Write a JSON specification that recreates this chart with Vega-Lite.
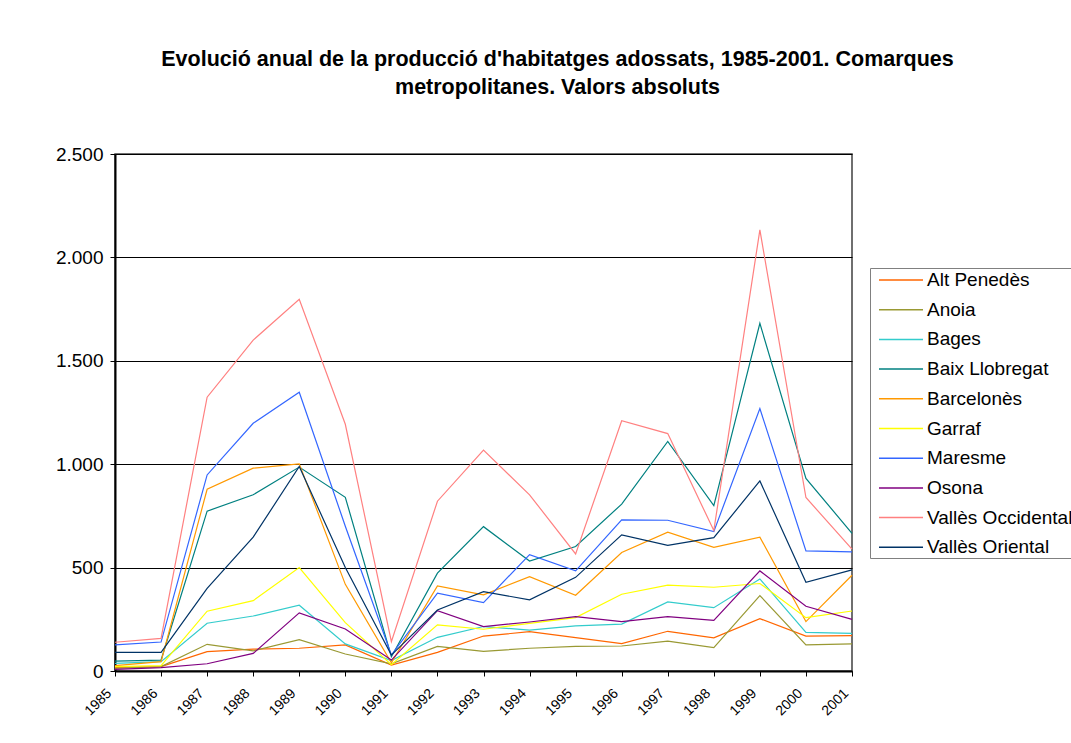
{
  "$schema": "https://vega.github.io/schema/vega-lite/v6.json",
  "width": 737,
  "height": 517,
  "autosize": "none",
  "padding": {"left": 115, "top": 154, "right": 219, "bottom": 72},
  "background": "white",
  "title": {
    "text": ["Evolució anual de la producció d'habitatges adossats, 1985-2001. Comarques", "metropolitanes. Valors absoluts"],
    "font": "Liberation Sans",
    "fontSize": 21.5,
    "fontWeight": "bold",
    "color": "black",
    "anchor": "middle",
    "dx": 74,
    "offset": 47,
    "lineHeight": 28
  },
  "data": {
    "values": [
      {"comarca": "Alt Penedès", "year": "1985", "value": 18},
      {"comarca": "Alt Penedès", "year": "1986", "value": 21},
      {"comarca": "Alt Penedès", "year": "1987", "value": 94},
      {"comarca": "Alt Penedès", "year": "1988", "value": 106},
      {"comarca": "Alt Penedès", "year": "1989", "value": 110},
      {"comarca": "Alt Penedès", "year": "1990", "value": 126},
      {"comarca": "Alt Penedès", "year": "1991", "value": 29},
      {"comarca": "Alt Penedès", "year": "1992", "value": 90},
      {"comarca": "Alt Penedès", "year": "1993", "value": 169},
      {"comarca": "Alt Penedès", "year": "1994", "value": 190},
      {"comarca": "Alt Penedès", "year": "1995", "value": 161},
      {"comarca": "Alt Penedès", "year": "1996", "value": 132},
      {"comarca": "Alt Penedès", "year": "1997", "value": 192},
      {"comarca": "Alt Penedès", "year": "1998", "value": 160},
      {"comarca": "Alt Penedès", "year": "1999", "value": 253},
      {"comarca": "Alt Penedès", "year": "2000", "value": 169},
      {"comarca": "Alt Penedès", "year": "2001", "value": 171},
      {"comarca": "Anoia", "year": "1985", "value": 13},
      {"comarca": "Anoia", "year": "1986", "value": 21},
      {"comarca": "Anoia", "year": "1987", "value": 129},
      {"comarca": "Anoia", "year": "1988", "value": 97},
      {"comarca": "Anoia", "year": "1989", "value": 152},
      {"comarca": "Anoia", "year": "1990", "value": 82},
      {"comarca": "Anoia", "year": "1991", "value": 35},
      {"comarca": "Anoia", "year": "1992", "value": 119},
      {"comarca": "Anoia", "year": "1993", "value": 95},
      {"comarca": "Anoia", "year": "1994", "value": 110},
      {"comarca": "Anoia", "year": "1995", "value": 119},
      {"comarca": "Anoia", "year": "1996", "value": 121},
      {"comarca": "Anoia", "year": "1997", "value": 144},
      {"comarca": "Anoia", "year": "1998", "value": 113},
      {"comarca": "Anoia", "year": "1999", "value": 365},
      {"comarca": "Anoia", "year": "2000", "value": 126},
      {"comarca": "Anoia", "year": "2001", "value": 131},
      {"comarca": "Bages", "year": "1985", "value": 37},
      {"comarca": "Bages", "year": "1986", "value": 45},
      {"comarca": "Bages", "year": "1987", "value": 231},
      {"comarca": "Bages", "year": "1988", "value": 266},
      {"comarca": "Bages", "year": "1989", "value": 318},
      {"comarca": "Bages", "year": "1990", "value": 131},
      {"comarca": "Bages", "year": "1991", "value": 50},
      {"comarca": "Bages", "year": "1992", "value": 163},
      {"comarca": "Bages", "year": "1993", "value": 215},
      {"comarca": "Bages", "year": "1994", "value": 198},
      {"comarca": "Bages", "year": "1995", "value": 218},
      {"comarca": "Bages", "year": "1996", "value": 227},
      {"comarca": "Bages", "year": "1997", "value": 334},
      {"comarca": "Bages", "year": "1998", "value": 306},
      {"comarca": "Bages", "year": "1999", "value": 445},
      {"comarca": "Bages", "year": "2000", "value": 187},
      {"comarca": "Bages", "year": "2001", "value": 182},
      {"comarca": "Baix Llobregat", "year": "1985", "value": 48},
      {"comarca": "Baix Llobregat", "year": "1986", "value": 53},
      {"comarca": "Baix Llobregat", "year": "1987", "value": 773},
      {"comarca": "Baix Llobregat", "year": "1988", "value": 852},
      {"comarca": "Baix Llobregat", "year": "1989", "value": 986},
      {"comarca": "Baix Llobregat", "year": "1990", "value": 840},
      {"comarca": "Baix Llobregat", "year": "1991", "value": 69},
      {"comarca": "Baix Llobregat", "year": "1992", "value": 473},
      {"comarca": "Baix Llobregat", "year": "1993", "value": 698},
      {"comarca": "Baix Llobregat", "year": "1994", "value": 532},
      {"comarca": "Baix Llobregat", "year": "1995", "value": 602},
      {"comarca": "Baix Llobregat", "year": "1996", "value": 807},
      {"comarca": "Baix Llobregat", "year": "1997", "value": 1110},
      {"comarca": "Baix Llobregat", "year": "1998", "value": 800},
      {"comarca": "Baix Llobregat", "year": "1999", "value": 1681},
      {"comarca": "Baix Llobregat", "year": "2000", "value": 931},
      {"comarca": "Baix Llobregat", "year": "2001", "value": 666},
      {"comarca": "Barcelonès", "year": "1985", "value": 26},
      {"comarca": "Barcelonès", "year": "1986", "value": 45},
      {"comarca": "Barcelonès", "year": "1987", "value": 879},
      {"comarca": "Barcelonès", "year": "1988", "value": 981},
      {"comarca": "Barcelonès", "year": "1989", "value": 1002},
      {"comarca": "Barcelonès", "year": "1990", "value": 419},
      {"comarca": "Barcelonès", "year": "1991", "value": 40},
      {"comarca": "Barcelonès", "year": "1992", "value": 411},
      {"comarca": "Barcelonès", "year": "1993", "value": 368},
      {"comarca": "Barcelonès", "year": "1994", "value": 456},
      {"comarca": "Barcelonès", "year": "1995", "value": 366},
      {"comarca": "Barcelonès", "year": "1996", "value": 573},
      {"comarca": "Barcelonès", "year": "1997", "value": 671},
      {"comarca": "Barcelonès", "year": "1998", "value": 598},
      {"comarca": "Barcelonès", "year": "1999", "value": 647},
      {"comarca": "Barcelonès", "year": "2000", "value": 239},
      {"comarca": "Barcelonès", "year": "2001", "value": 463},
      {"comarca": "Garraf", "year": "1985", "value": 21},
      {"comarca": "Garraf", "year": "1986", "value": 26},
      {"comarca": "Garraf", "year": "1987", "value": 289},
      {"comarca": "Garraf", "year": "1988", "value": 340},
      {"comarca": "Garraf", "year": "1989", "value": 500},
      {"comarca": "Garraf", "year": "1990", "value": 234},
      {"comarca": "Garraf", "year": "1991", "value": 30},
      {"comarca": "Garraf", "year": "1992", "value": 223},
      {"comarca": "Garraf", "year": "1993", "value": 202},
      {"comarca": "Garraf", "year": "1994", "value": 230},
      {"comarca": "Garraf", "year": "1995", "value": 258},
      {"comarca": "Garraf", "year": "1996", "value": 371},
      {"comarca": "Garraf", "year": "1997", "value": 415},
      {"comarca": "Garraf", "year": "1998", "value": 405},
      {"comarca": "Garraf", "year": "1999", "value": 423},
      {"comarca": "Garraf", "year": "2000", "value": 258},
      {"comarca": "Garraf", "year": "2001", "value": 290},
      {"comarca": "Maresme", "year": "1985", "value": 126},
      {"comarca": "Maresme", "year": "1986", "value": 140},
      {"comarca": "Maresme", "year": "1987", "value": 948},
      {"comarca": "Maresme", "year": "1988", "value": 1198},
      {"comarca": "Maresme", "year": "1989", "value": 1348},
      {"comarca": "Maresme", "year": "1990", "value": 700},
      {"comarca": "Maresme", "year": "1991", "value": 77},
      {"comarca": "Maresme", "year": "1992", "value": 376},
      {"comarca": "Maresme", "year": "1993", "value": 331},
      {"comarca": "Maresme", "year": "1994", "value": 563},
      {"comarca": "Maresme", "year": "1995", "value": 484},
      {"comarca": "Maresme", "year": "1996", "value": 731},
      {"comarca": "Maresme", "year": "1997", "value": 729},
      {"comarca": "Maresme", "year": "1998", "value": 674},
      {"comarca": "Maresme", "year": "1999", "value": 1269},
      {"comarca": "Maresme", "year": "2000", "value": 581},
      {"comarca": "Maresme", "year": "2001", "value": 576},
      {"comarca": "Osona", "year": "1985", "value": 8},
      {"comarca": "Osona", "year": "1986", "value": 16},
      {"comarca": "Osona", "year": "1987", "value": 35},
      {"comarca": "Osona", "year": "1988", "value": 85},
      {"comarca": "Osona", "year": "1989", "value": 281},
      {"comarca": "Osona", "year": "1990", "value": 203},
      {"comarca": "Osona", "year": "1991", "value": 53},
      {"comarca": "Osona", "year": "1992", "value": 292},
      {"comarca": "Osona", "year": "1993", "value": 215},
      {"comarca": "Osona", "year": "1994", "value": 237},
      {"comarca": "Osona", "year": "1995", "value": 263},
      {"comarca": "Osona", "year": "1996", "value": 239},
      {"comarca": "Osona", "year": "1997", "value": 263},
      {"comarca": "Osona", "year": "1998", "value": 245},
      {"comarca": "Osona", "year": "1999", "value": 484},
      {"comarca": "Osona", "year": "2000", "value": 313},
      {"comarca": "Osona", "year": "2001", "value": 250},
      {"comarca": "Vallès Occidental", "year": "1985", "value": 139},
      {"comarca": "Vallès Occidental", "year": "1986", "value": 158},
      {"comarca": "Vallès Occidental", "year": "1987", "value": 1324},
      {"comarca": "Vallès Occidental", "year": "1988", "value": 1600},
      {"comarca": "Vallès Occidental", "year": "1989", "value": 1797},
      {"comarca": "Vallès Occidental", "year": "1990", "value": 1193},
      {"comarca": "Vallès Occidental", "year": "1991", "value": 142},
      {"comarca": "Vallès Occidental", "year": "1992", "value": 821},
      {"comarca": "Vallès Occidental", "year": "1993", "value": 1068},
      {"comarca": "Vallès Occidental", "year": "1994", "value": 852},
      {"comarca": "Vallès Occidental", "year": "1995", "value": 566},
      {"comarca": "Vallès Occidental", "year": "1996", "value": 1210},
      {"comarca": "Vallès Occidental", "year": "1997", "value": 1148},
      {"comarca": "Vallès Occidental", "year": "1998", "value": 679},
      {"comarca": "Vallès Occidental", "year": "1999", "value": 2133},
      {"comarca": "Vallès Occidental", "year": "2000", "value": 839},
      {"comarca": "Vallès Occidental", "year": "2001", "value": 589},
      {"comarca": "Vallès Oriental", "year": "1985", "value": 90},
      {"comarca": "Vallès Oriental", "year": "1986", "value": 90},
      {"comarca": "Vallès Oriental", "year": "1987", "value": 400},
      {"comarca": "Vallès Oriental", "year": "1988", "value": 647},
      {"comarca": "Vallès Oriental", "year": "1989", "value": 989},
      {"comarca": "Vallès Oriental", "year": "1990", "value": 500},
      {"comarca": "Vallès Oriental", "year": "1991", "value": 77},
      {"comarca": "Vallès Oriental", "year": "1992", "value": 295},
      {"comarca": "Vallès Oriental", "year": "1993", "value": 384},
      {"comarca": "Vallès Oriental", "year": "1994", "value": 344},
      {"comarca": "Vallès Oriental", "year": "1995", "value": 453},
      {"comarca": "Vallès Oriental", "year": "1996", "value": 658},
      {"comarca": "Vallès Oriental", "year": "1997", "value": 608},
      {"comarca": "Vallès Oriental", "year": "1998", "value": 645},
      {"comarca": "Vallès Oriental", "year": "1999", "value": 919},
      {"comarca": "Vallès Oriental", "year": "2000", "value": 429},
      {"comarca": "Vallès Oriental", "year": "2001", "value": 489}
    ]
  },
  "mark": {"type": "line", "strokeWidth": 1.2},
  "encoding": {
    "x": {
      "field": "year",
      "type": "ordinal",
      "scale": {"type": "point", "padding": 0},
      "axis": {
        "title": null,
        "labelAngle": -45,
        "labelAlign": "right",
        "labelBaseline": "middle",
        "labelFont": "Liberation Sans",
        "labelFontSize": 14,
        "labelColor": "black",
        "labelPadding": 15,
        "labelOffset": -6,
        "domainColor": "black",
        "domainWidth": 2,
        "tickColor": "black",
        "tickSize": 5,
        "grid": false
      }
    },
    "y": {
      "field": "value",
      "type": "quantitative",
      "scale": {"domain": [0, 2500], "nice": false},
      "axis": {
        "title": null,
        "values": [0, 500, 1000, 1500, 2000, 2500],
        "labelExpr": "replace(format(datum.value, ','), ',', '.')",
        "labelFont": "Liberation Sans",
        "labelFontSize": 19,
        "labelColor": "black",
        "labelPadding": 7,
        "domainColor": "black",
        "domainWidth": 2,
        "tickColor": "black",
        "tickSize": 5,
        "grid": true,
        "gridColor": "black",
        "gridWidth": 1,
        "gridOpacity": 1
      }
    },
    "color": {
      "field": "comarca",
      "type": "nominal",
      "scale": {
        "domain": ["Alt Penedès", "Anoia", "Bages", "Baix Llobregat", "Barcelonès", "Garraf", "Maresme", "Osona", "Vallès Occidental", "Vallès Oriental"],
        "range": ["#FF6600", "#999933", "#33CCCC", "#008080", "#FF9900", "#FFFF00", "#3366FF", "#800080", "#FF8080", "#003366"]
      },
      "legend": {
        "title": null,
        "orient": "none",
        "legendX": 755,
        "legendY": 114,
        "strokeColor": "#808080",
        "fillColor": "white",
        "padding": 0,
        "symbolType": "M-2,0H2",
        "symbolSize": 484,
        "symbolOffset": 19,
        "symbolStrokeWidth": 1.5,
        "labelOffset": 14,
        "labelFont": "Liberation Sans",
        "labelFontSize": 19,
        "labelColor": "black",
        "rowPadding": 7.7,
        "labelLimit": 300
      }
    }
  },
  "config": {
    "view": {"stroke": "#404040", "strokeWidth": 1.5}
  }
}
